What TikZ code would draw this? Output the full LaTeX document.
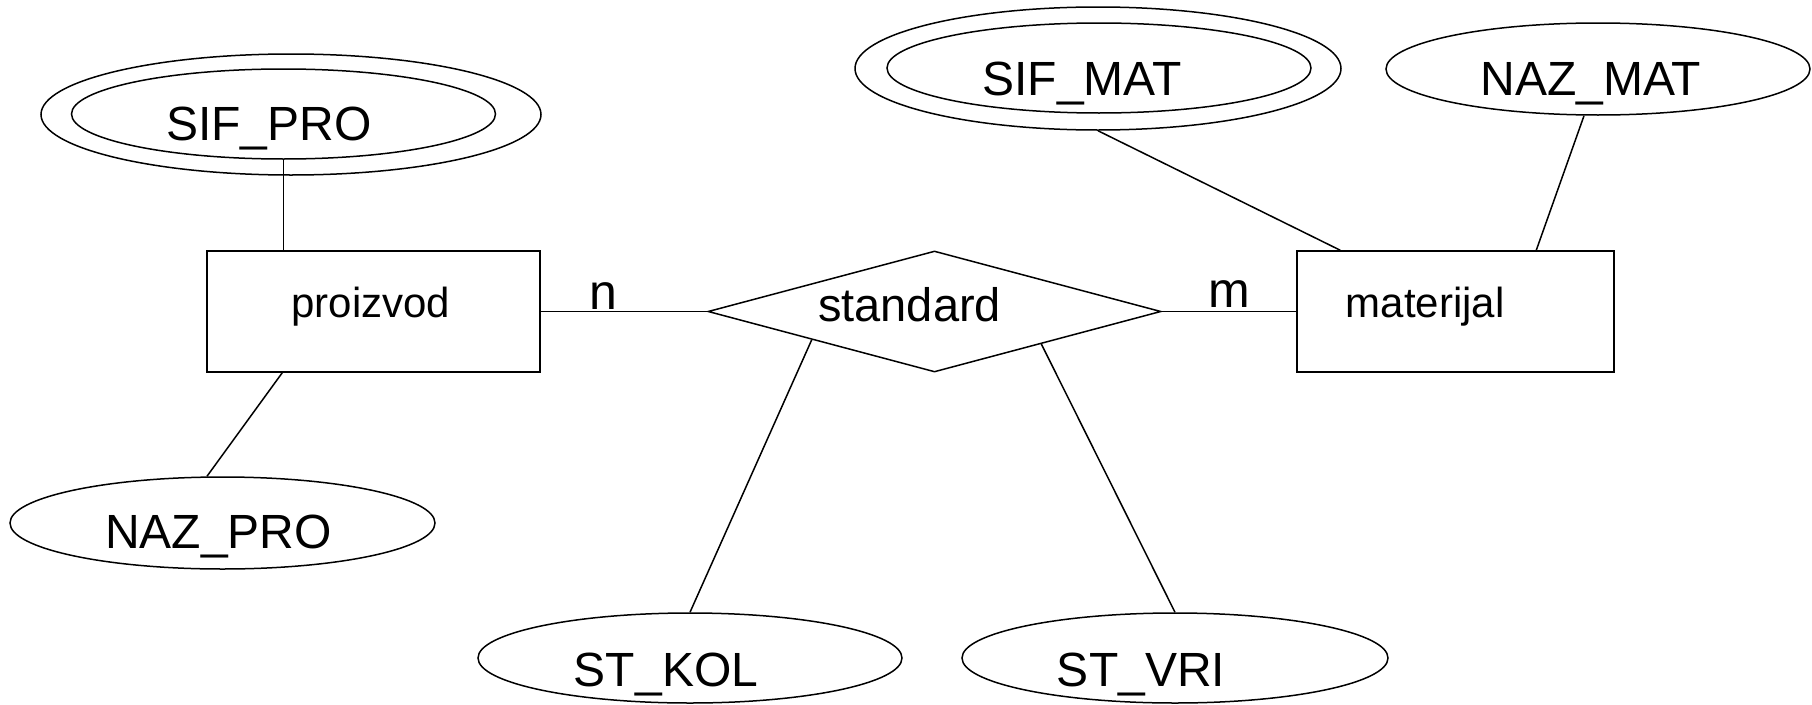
\documentclass[tikz,border=0pt]{standalone}
\usepackage{fontspec}
\setmainfont{Liberation Sans}
\usetikzlibrary{shapes.geometric,calc}
\tikzset{
  attr/.style={draw, ellipse, inner sep=0pt, line width=1.5pt},
  ent/.style={draw, rectangle, inner sep=0pt, line width=1.5pt},
  rel/.style={draw, diamond, inner sep=0pt, line width=1.5pt},
  conn/.style={line width=1.5pt},
  lbl/.style={inner sep=0pt, anchor=base, font=\fontsize{48}{58}\selectfont},
  elbl/.style={inner sep=0pt, anchor=base, font=\fontsize{42}{50}\selectfont},
  card/.style={inner sep=0pt, anchor=base, font=\fontsize{50}{60}\selectfont}
}
\begin{document}
\begin{tikzpicture}[x=1pt,y=-1pt]
\useasboundingbox (0,0) rectangle (1812,704);
% entities
\node[ent, minimum width=333pt, minimum height=121pt] (proizvod) at (373.5,311.5) {};
\node[elbl] (tproizvod) at (371,317) {proizvod};
\node[ent, minimum width=317pt, minimum height=121pt] (materijal) at (1455.5,311.5) {};
\node[elbl] (tmaterijal) at (1425,317) {materijal};
% relationship
\node[rel, minimum width=453pt, minimum height=121pt] (std) at (934.5,311.5) {};
\node[inner sep=0pt, anchor=base, font=\fontsize{47}{56}\selectfont] (tstd) at (909.5,321) {standard};
% attributes
\node[attr, minimum width=500pt, minimum height=121pt] (sifproO) at (291,114.5) {};
\node[attr, minimum width=424pt, minimum height=90pt] (sifproI) at (283.5,114) {};
\node[lbl] (tsifpro) at (269,140) {SIF\_PRO};
\node[attr, minimum width=425pt, minimum height=92pt] (nazpro) at (222.5,523) {};
\node[lbl] (tnazpro) at (218.5,548) {NAZ\_PRO};
\node[attr, minimum width=486pt, minimum height=123pt] (sifmatO) at (1098,68.5) {};
\node[attr, minimum width=424pt, minimum height=90pt] (sifmatI) at (1099,68) {};
\node[lbl] (tsifmat) at (1082,95) {SIF\_MAT};
\node[attr, minimum width=424pt, minimum height=92pt] (nazmat) at (1598,69) {};
\node[lbl] (tnazmat) at (1591,95) {NAZ\_MAT};
\node[attr, minimum width=424pt, minimum height=90pt] (stkol) at (690,658) {};
\node[lbl] (tstkol) at (666,686) {ST\_KOL};
\node[attr, minimum width=426pt, minimum height=90pt] (stvri) at (1175,658) {};
\node[lbl] (tstvri) at (1141,686) {ST\_VRI};
% connectors
\draw[conn] (sifproI.south) -- (sifproI.south |- proizvod.north);
\draw[conn] ($(proizvod.south west)+(76,0)$) -- ($(nazpro.north)+(-15.5,0)$);
\draw[conn] (proizvod.east) -- (std.west);
\draw[conn] (std.east) -- (materijal.west);
\draw[conn] (sifmatO.south) -- ($(materijal.north west)+(44,0)$);
\draw[conn] ($(nazmat.south)+(-14,0)$) -- ($(materijal.north west)+(240,0)$);
\draw[conn] ($(std.south)!0.54!(std.west)$) -- (stkol.north);
\draw[conn] ($(std.south)!0.47!(std.east)$) -- (stvri.north);
% cardinalities
\node[card] (cn) at (603,309) {n};
\node[card] (cm) at (1229.5,307) {m};
\end{tikzpicture}
\end{document}
